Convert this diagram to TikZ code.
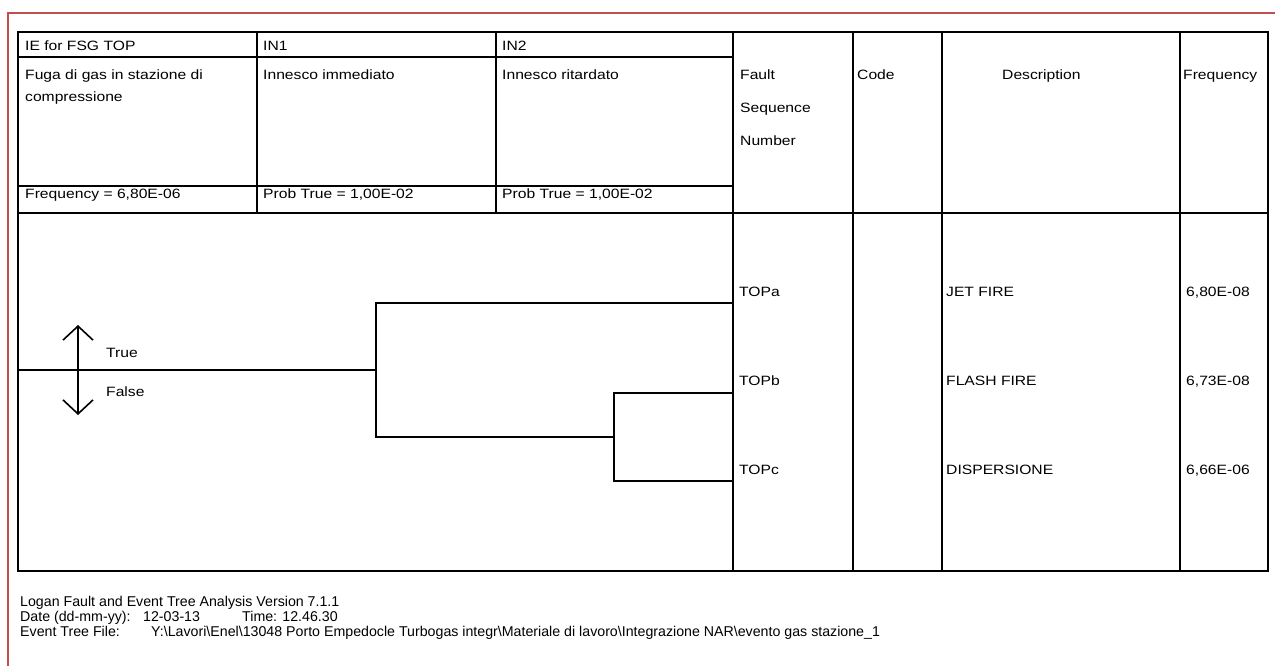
\documentclass[tikz,border=0pt]{standalone}
\usepackage{fontspec}
\newfontfamily\tabfont{Liberation Sans}[FakeStretch=1.16]
\newfontfamily\footfont{Liberation Sans}
\usetikzlibrary{arrows.meta}
\definecolor{framered}{RGB}{192,80,77}
\newcommand{\bsl}{\textbackslash{}}

\tikzset{
	grid/.style = {line width = 2pt},
	branch/.style = {line width = 1.9pt},
	txt/.style = {anchor = base west, inner sep = 0pt, font = \tabfont\fontsize{13.5}{16}\selectfont},
	foot/.style = {anchor = base west, inner sep = 0pt, font = \footfont\fontsize{14.2}{17}\selectfont}
}

\begin{document}
\begin{tikzpicture}[x = 1pt, y = -1pt]
				\useasboundingbox (0, 0) rectangle (1275, 666);
				
				% frame
				\draw[framered, line width = 2.6pt] (8, 666) -- (8, 13) -- (1275, 13);
				
				% table
				\draw[grid] (18, 32) rectangle (1268, 571);
				\draw[grid] (18, 57) -- (733, 57);
				\draw[grid] (18, 186) -- (733, 186);
				\draw[grid] (18, 213) -- (1268, 213);
				\draw[grid] (257, 32) -- (257, 213);
				\draw[grid] (496, 32) -- (496, 213);
				\draw[grid] (733, 32) -- (733, 571);
				\draw[grid] (853, 32) -- (853, 571);
				\draw[grid] (942, 32) -- (942, 571);
				\draw[grid] (1180, 32) -- (1180, 571);
				
				% header
				\node[txt] (ie) at (25, 51) {IE for FSG TOP};
				\node[txt] (in1) at (263, 51) {IN1};
				\node[txt] (in2) at (502, 51) {IN2};
				\node[txt] (iedesc) at (25, 80) {Fuga di gas in stazione di};
				\node[txt] (iedesc2) at (25, 102) {compressione};
				\node[txt] (in1desc) at (263, 80) {Innesco immediato};
				\node[txt] (in2desc) at (502, 80) {Innesco ritardato};
				\node[txt] (iefreq) at (25, 199) {Frequency = 6,80E-06};
				\node[txt] (in1prob) at (263, 199) {Prob True = 1,00E-02};
				\node[txt] (in2prob) at (502, 199) {Prob True = 1,00E-02};
				\node[txt] (fault) at (740, 80) {Fault};
				\node[txt] (sequence) at (740, 113) {Sequence};
				\node[txt] (number) at (740, 146) {Number};
				\node[txt] (code) at (857, 80) {Code};
				\node[txt] (descr) at (1002, 80) {Description};
				\node[txt] (freq) at (1183, 80) {Frequency};
				
				% tree
				\coordinate (root) at (18, 370);
				\coordinate (n1) at (376, 370);
				\coordinate (n1top) at (376, 303);
				\coordinate (n1bot) at (376, 437);
				\coordinate (n2) at (614, 437);
				\coordinate (n2top) at (614, 393);
				\coordinate (n2bot) at (614, 481);
				\coordinate (enda) at (733, 303);
				\coordinate (endb) at (733, 393);
				\coordinate (endc) at (733, 481);
				\draw[branch] (root) -- (n1);
				\draw[branch] (enda) -- (n1top) -- (n1bot) -- (n2);
				\draw[branch] (endb) -- (n2top) -- (n2bot) -- (endc);
				
				% true / false
				\coordinate (tup) at (78, 325);
				\coordinate (fdown) at (78, 415);
				\draw[{Straight Barb[length = 14pt, width = 30pt]}-{Straight Barb[length = 14pt, width = 30pt]}, line width = 1.6pt] (tup) -- (fdown);
				\node[txt] (true) at (106, 357) {True};
				\node[txt] (false) at (106, 396) {False};
				
				% sequences
				\node[txt] (topa) at (739, 296) {TOPa};
				\node[txt] (topb) at (739, 385) {TOPb};
				\node[txt] (topc) at (739, 474) {TOPc};
				\node[txt] (desca) at (946, 296) {JET FIRE};
				\node[txt] (descb) at (946, 385) {FLASH FIRE};
				\node[txt] (descc) at (946, 474) {DISPERSIONE};
				\node[txt] (freqa) at (1186, 296) {6,80E-08};
				\node[txt] (freqb) at (1186, 385) {6,73E-08};
				\node[txt] (freqc) at (1186, 474) {6,66E-06};
				
				% footer
				\node[foot] (logan) at (20, 606) {Logan Fault and Event Tree Analysis Version 7.1.1};
				\node[foot] (date) at (20, 621) {Date (dd-mm-yy):};
				\node[foot] (dateval) at (143, 621) {12-03-13};
				\node[foot] (time) at (242, 621) {Time: 12.46.30};
				\node[foot] (file) at (20, 636) {Event Tree File:};
				\node[foot] (fileval) at (151, 636) {Y:\bsl Lavori\bsl Enel\bsl 13048 Porto Empedocle Turbogas integr\bsl Materiale di lavoro\bsl Integrazione NAR\bsl evento gas stazione\_1};
				
			\end{tikzpicture}
\end{document}
